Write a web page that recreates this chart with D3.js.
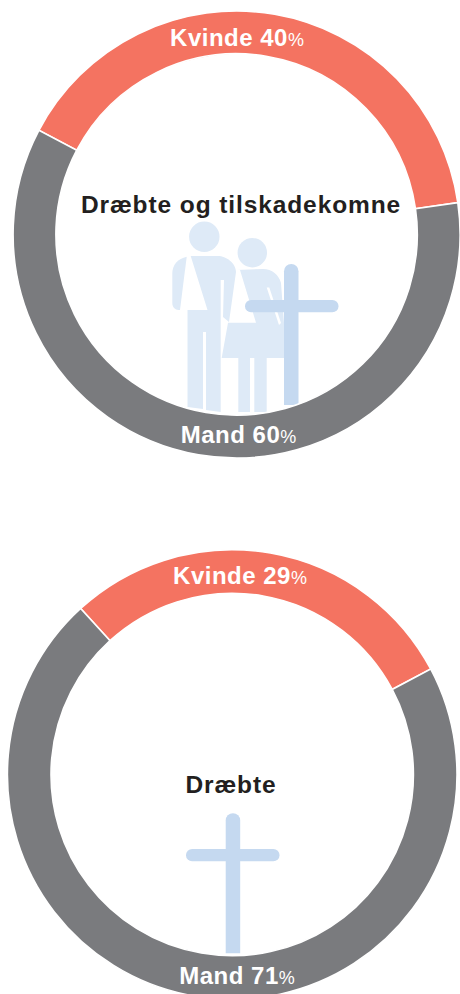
<!DOCTYPE html>
<html><head><meta charset="utf-8">
<script src="https://cdn.jsdelivr.net/npm/d3@7"></script>
<style>html,body{margin:0;padding:0;background:#fff}svg{display:block}text{font-family:"Liberation Sans",Arial,sans-serif}</style>
</head><body><svg id="c" width="460" height="994"></svg>
<script>
const categories = ["Kvinde", "Mand"];
const panelTitles = ["Dræbte og tilskadekomne", "Dræbte"];
const valuesAll = [40, 60];
const valuesKilled = [29, 71];
const colors = ["#f47361", "#7a7b7e"];

const svg = d3.select("#c");
const color = d3.scaleOrdinal(categories, colors);

const panels = [
  {values: valuesAll, title: panelTitles[0], cx: 236.6, cy: 234.5, R: 223.5, r: 180.7, start: -62.2,
   titleX: 241, titleY: 213, kX: 237, kY: 45.5, mX: 238.5, mY: 443, icon: "both"},
  {values: valuesKilled, title: panelTitles[1], cx: 232.2, cy: 774.5, R: 224.8, r: 181.2, start: -42.4,
   titleX: 231, titleY: 793, kX: 240, kY: 584, mX: 237, mY: 984, icon: "cross"}
];

const defs = svg.append("defs");

panels.forEach((p, i) => {
  const g = svg.append("g").attr("transform", `translate(${p.cx},${p.cy})`);
  const a0 = p.start * Math.PI / 180;
  const pie = d3.pie().sort(null).startAngle(a0).endAngle(a0 + 2 * Math.PI);
  const arc = d3.arc().innerRadius(p.r).outerRadius(p.R);

  g.selectAll("path.s").data(pie(p.values)).join("path").attr("class", "s")
    .attr("d", arc).attr("fill", (d, j) => color(categories[j]))
    .attr("stroke", "#fff").attr("stroke-width", 1.6);

  const clipId = "clip" + i;
  defs.append("clipPath").attr("id", clipId).append("circle").attr("cx", p.cx).attr("cy", p.cy).attr("r", p.r - 1);
  const ic = svg.append("g").attr("clip-path", `url(#${clipId})`);

  if (p.icon === "both") {
    const man = ic.append("g").attr("fill", "#deeaf7");
    man.append("circle").attr("cx", 204.3).attr("cy", 236.8).attr("r", 15.2);
    man.append("path").attr("d", "M186.7 256.7C178 258.5 172.3 265 172.3 273L172.3 303C172.3 307 175 310 178.5 310L180 310Z");
    man.append("path").attr("d", "M190.7 256L218 256C226 256 236 263 236 272L229 322L223 317L224 280L220.7 280L220.7 412L206 410L206 332L203 332L203 409L187.5 407L187.5 310L207.5 310Z");
    const wom = ic.append("g").attr("fill", "#deeaf7");
    wom.append("circle").attr("cx", 252.3).attr("cy", 252.7).attr("r", 14.7);
    wom.append("path").attr("d", "M236.5 270L263 269C272 269 279 275 281 283L284 323L284 358L221.7 358L228 322.7L256 322.7L240 270Z");
    wom.append("path").attr("d", "M266.7 287.5L269.3 287.5L281 323L279 325Z").attr("fill", "#fff");
    wom.append("path").attr("d", "M238.3 358L250 358L250 412L238.3 412Z");
    wom.append("path").attr("d", "M254.3 358L266.7 358L266.7 412L254.3 412Z");
  }
  const c = ic.append("g").attr("fill", "#c5d9f0");
  const cr = p.icon === "both"
    ? {x: 284, y: 264, h: 141, bx: 245, by: 300}
    : {x: 225.7, y: 813.3, h: 140, bx: 186, by: 849};
  c.append("path").attr("d", `M${cr.x} ${cr.y + cr.h}V${cr.y + 7.2}a7.25 7.25 0 0 1 14.5 0V${cr.y + cr.h}Z`);
  c.append("rect").attr("x", cr.bx).attr("y", cr.by).attr("width", 93.5).attr("height", 12.3).attr("rx", 6.1);

  svg.append("text").attr("x", p.titleX).attr("y", p.titleY).attr("text-anchor", "middle")
    .attr("font-size", 24.5).attr("letter-spacing", 0.9).attr("font-weight", 700).attr("fill", "#231f20").text(p.title);

  const labels = [[p.kX, p.kY], [p.mX, p.mY]];
  labels.forEach(([x, y], j) => {
    const t = svg.append("text").attr("x", x).attr("y", y).attr("text-anchor", "middle")
      .attr("fill", "#fff").attr("font-size", 24).attr("letter-spacing", 0.5).attr("font-weight", 700);
    t.append("tspan").text(`${categories[j]} ${p.values[j]}`);
    t.append("tspan").attr("font-size", 18).attr("letter-spacing", 0).attr("font-weight", 400).text("%");
  });
});
</script></body></html>
